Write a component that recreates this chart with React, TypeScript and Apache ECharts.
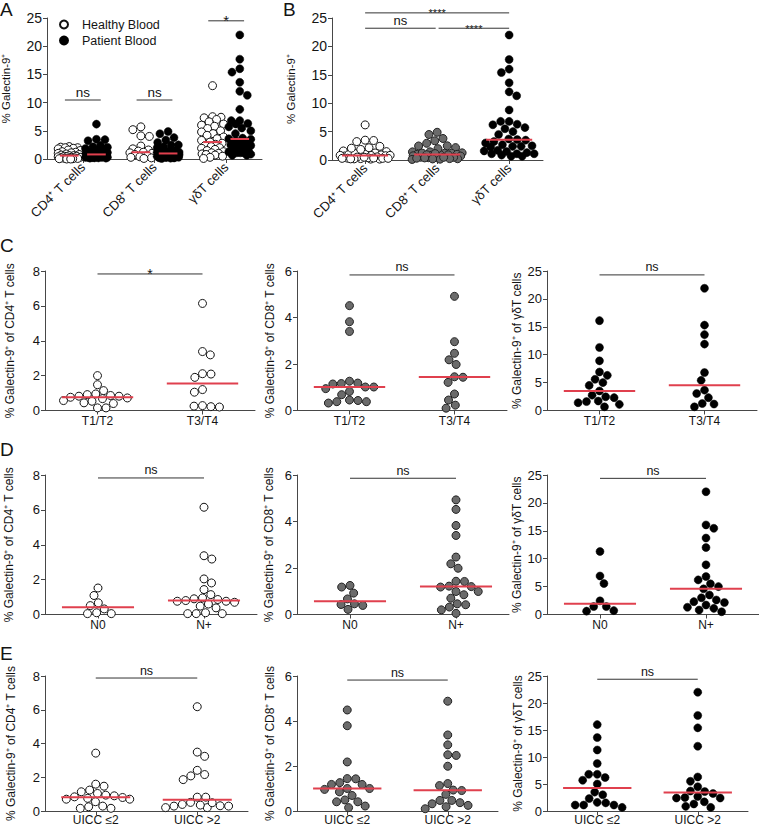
import React, { useEffect, useRef } from 'react';
import * as echarts from 'echarts';

// ---------- DATA ----------
const cellCats = ['CD4⁺ T cells', 'CD8⁺ T cells', 'γδT cells'];
const tCats = ['T1/T2', 'T3/T4'];
const nCats = ['N0', 'N+'];
const uiccCats = ['UICC ≤2', 'UICC >2'];

// Panel A healthy donors
const healthyCD4 = [2.2, 2.1, 2.0, 2.0, 1.9, 1.8, 1.6, 1.5, 1.3, 1.2, 1.1, 1.0, 0.9, 0.8, 0.7, 0.6, 0.6, 0.5, 0.5, 0.4, 0.4, 0.3, 0.3, 0.2, 0.2, 0.1, 0.1, 0.1, 0.05, 0.05, 0.0, 0.0];
const healthyCD8 = [5.7, 5.2, 4.1, 4.0, 2.3, 1.8, 1.6, 1.4, 1.2, 1.1, 1.0, 0.8, 0.6, 0.4, 0.3, 0.2, 0.1];
const healthyGD = [13.0, 7.5, 7.4, 7.3, 7.0, 6.6, 6.2, 6.0, 5.8, 5.4, 5.0, 4.8, 4.5, 4.2, 3.9, 3.6, 3.3, 3.0, 2.8, 2.6, 2.4, 2.2, 2.0, 1.9, 1.7, 1.5, 1.3, 1.1, 1.0, 0.9, 0.8, 0.7, 0.5, 0.3, 0.1];

// Row C: T stage
const c4T12 = [2.0, 1.48, 1.14, 0.95, 0.86, 0.82, 0.72, 0.68, 0.76, 0.82, 0.91, 0.53, 0.40, 0.44, 0.57, 0.15, 0.15];
const c4T34 = [6.14, 3.38, 3.19, 2.11, 2.09, 1.90, 1.20, 1.05, 0.25, 0.2, 0.22, 0.28];
const c8T12 = [4.51, 3.82, 3.40, 1.26, 1.18, 1.14, 1.16, 1.01, 1.01, 0.94, 0.82, 0.68, 0.45, 0.38, 0.32, 0.38, 0.43];
const c8T34 = [4.91, 2.96, 2.46, 2.18, 1.98, 1.45, 1.43, 1.21, 0.71, 0.45, 0.23, 0.10];
const cgdT12 = [16.1, 11.3, 8.9, 6.9, 6.3, 5.6, 5.0, 4.5, 3.5, 2.75, 2.45, 2.3, 1.7, 1.4, 1.1, 1.6, 0.66];
const cgdT34 = [21.9, 15.3, 13.6, 11.9, 6.8, 5.4, 3.65, 3.05, 2.3, 1.25, 1.15, 0.66];

// Row D: N stage
const d4N0 = [1.52, 1.09, 0.67, 0.51, 0.32, 0.1, 0.05, 0.05];
const d4Np = [6.15, 3.37, 3.18, 2.04, 1.81, 1.43, 1.14, 0.95, 0.9, 0.8, 0.76, 0.7, 0.86, 0.76, 0.6, 0.48, 0.38, 0.1, 0.05, 0.05, 0.05];
const d8N0 = [1.25, 1.18, 0.92, 0.67, 0.46, 0.43, 0.39, 0.22];
const d8Np = [4.93, 4.52, 3.83, 3.4, 2.47, 2.18, 1.99, 1.43, 1.22, 1.2, 1.42, 1.18, 0.99, 0.99, 0.85, 0.7, 0.42, 0.46, 0.2, 0.32, 0.05];
const dgdN0 = [11.3, 6.9, 5.55, 2.45, 1.43, 1.43, 0.6, 0.7];
const dgdNp = [22.0, 16.05, 15.45, 13.7, 12.0, 8.9, 6.8, 6.2, 5.5, 5.0, 4.6, 3.5, 3.0, 2.3, 2.15, 2.6, 1.7, 1.3, 1.1, 0.8, 0.5];

// Row E: UICC stage
const e4Lo = [3.43, 1.59, 1.47, 1.24, 1.04, 0.9, 0.8, 0.7, 0.7, 0.75, 0.84, 0.94, 1.14, 0.55, 0.25, 0.16, 0.16, 0.29];
const e4Hi = [6.18, 3.49, 3.24, 2.41, 2.16, 2.08, 1.86, 0.82, 0.82, 0.51, 0.39, 0.31, 0.29, 0.2, 0.2, 0.29, 0.35, 0.49];
const e8Lo = [4.49, 3.79, 2.18, 1.44, 1.26, 1.18, 1.18, 1.43, 1.0, 0.85, 0.96, 1.0, 0.69, 0.49, 0.41, 0.41, 0.22, 0.15];
const e8Hi = [4.88, 3.38, 2.94, 2.47, 2.5, 1.99, 1.13, 1.22, 0.91, 0.93, 0.74, 0.47, 0.37, 0.25, 0.1, 0.19, 0.32, 0.47];
const egdLo = [16.0, 13.6, 11.3, 8.8, 6.8, 6.8, 6.2, 5.7, 5.0, 3.5, 3.0, 2.3, 1.5, 1.1, 0.67, 1.1, 1.1, 1.6];
const egdHi = [22.0, 17.7, 15.4, 12.0, 6.3, 5.5, 4.5, 3.6, 3.7, 3.25, 2.7, 2.4, 2.4, 2.5, 1.3, 1.7, 0.67, 0.86];

// Patient blood (all patients)
const patientCD4 = [...e4Lo, ...e4Hi];
const patientCD8 = [...e8Lo, ...e8Hi];
const patientGD = [...egdLo, ...egdHi];

// ---------- HELPERS ----------
const FONT = '"Liberation Sans", Arial, Helvetica, sans-serif';
const TXT = '#141414';
const AX = '#474747';
const RED = '#e0404e';

function median(a: number[]) {
  const s = [...a].sort((x, y) => x - y);
  const n = s.length;
  return n % 2 ? s[(n - 1) / 2] : (s[n / 2 - 1] + s[n / 2]) / 2;
}

function swarm(values: number[], pxPerY: number, d: number, maxHalf: number): number[] {
  const order = values.map((_, i) => i).sort((a, b) => values[b] - values[a]);
  const placed: { x: number; y: number }[] = [];
  const xs = new Array(values.length).fill(0);
  const minDist = (c: number, y: number) => {
    let m = Infinity;
    for (const p of placed) m = Math.min(m, Math.hypot(p.x - c, p.y - y));
    return m;
  };
  order.forEach((i, k) => {
    const y = values[i] * pxPerY;
    const cands = [0];
    for (const p of placed) {
      const dy = Math.abs(p.y - y);
      if (dy < d) {
        const dx = Math.sqrt(d * d - dy * dy);
        cands.push(p.x + dx, p.x - dx);
      }
    }
    const pref = k % 2 ? 1 : -1;
    const ok = cands
      .filter((c) => Math.abs(c) <= maxHalf)
      .sort((a, b) => Math.abs(a) - Math.abs(b) || (a - b) * pref);
    let chosen: number | null = null;
    for (const c of ok) {
      if (minDist(c, y) >= d - 0.01) { chosen = c; break; }
    }
    if (chosen === null) {
      let best = 0, bestD = -1;
      for (let c = -maxHalf; c <= maxHalf; c += 0.5) {
        const md = minDist(c, y);
        if (md > bestD + 1e-6 || (Math.abs(md - bestD) < 1e-6 && Math.abs(c) < Math.abs(best))) { best = c; bestD = md; }
      }
      chosen = best;
    }
    placed.push({ x: chosen, y });
    xs[i] = chosen;
  });
  return xs;
}

type Group = { values: number[]; x: number; style: 'open' | 'gray' | 'black'; name?: string };
type Sig = { x1: number; x2: number; y: number; text: string; size: number; dy: number };
type Panel = {
  grid: { left: number; top: number; width: number; height: number };
  yMax: number; yInt: number; xMin: number; xMax: number;
  cats: string[]; rotate: number; catSize: number; tickSize: number; catMargin: number;
  yName: string; nameGap: number; nameSize: number;
  groups: Group[]; medHalf: number; maxHalf: number; sigs: Sig[];
};

const STYLES: Record<string, any> = {
  open: { color: '#ffffff', borderColor: '#111111', borderWidth: 1, opacity: 1 },
  black: { color: '#000000', borderColor: '#000000', borderWidth: 0.5, opacity: 1 },
  gray: { color: '#6b6b6b', borderColor: '#222222', borderWidth: 1, opacity: 1 },
};

const cd4Name = '% Galectin-9⁺ of CD4⁺ T cells';
const cd8Name = '% Galectin-9⁺ of CD8⁺ T cells';
const gdName = '% Galectin-9⁺ of γδT cells';

const cSets = [[c4T12, c4T34], [c8T12, c8T34], [cgdT12, cgdT34]];
const dSets = [[d4N0, d4Np], [d8N0, d8Np], [dgdN0, dgdNp]];
const eSets = [[e4Lo, e4Hi], [e8Lo, e8Hi], [egdLo, egdHi]];

function rowPanels(top: number, height: number, widths: number[], cats: string[], sets: number[][][], gaps: number[], sigY: number[], star: boolean, catMargin: number): Panel[] {
  const lefts = [45, 297, 547];
  const yMaxs = [8, 6, 25];
  const yInts = [2, 2, 5];
  const names = [cd4Name, cd8Name, gdName];
  const styles: Array<'open' | 'gray' | 'black'> = ['open', 'gray', 'black'];
  return [0, 1, 2].map((k) => {
    const isStar = star && k === 0;
    return {
      grid: { left: lefts[k], top, width: widths[k], height },
      yMax: yMaxs[k], yInt: yInts[k], xMin: -0.5, xMax: 1.5,
      cats, rotate: 0, catSize: 12, tickSize: 13, catMargin,
      yName: names[k], nameGap: gaps[k], nameSize: 12,
      groups: [
        { values: sets[k][0], x: 0, style: styles[k] },
        { values: sets[k][1], x: 1, style: styles[k] },
      ],
      medHalf: 0.34, maxHalf: 34,
      sigs: [{ x1: 0, x2: 1, y: sigY[k], text: isStar ? '*' : 'ns', size: isStar ? 14 : 12.5, dy: isStar ? 7 : -1 }],
    };
  });
}

const panels: Panel[] = [
  {
    grid: { left: 47, top: 18, width: 215, height: 141 },
    yMax: 25, yInt: 5, xMin: -0.5, xMax: 2.5,
    cats: cellCats, rotate: 45, catSize: 13, tickSize: 14, catMargin: 6,
    yName: '% Galectin-9⁺', nameGap: 35, nameSize: 11.5,
    groups: [
      { values: healthyCD4, x: -0.19, style: 'open', name: 'Healthy Blood' },
      { values: patientCD4, x: 0.19, style: 'black', name: 'Patient Blood' },
      { values: healthyCD8, x: 0.81, style: 'open', name: 'Healthy Blood' },
      { values: patientCD8, x: 1.19, style: 'black', name: 'Patient Blood' },
      { values: healthyGD, x: 1.81, style: 'open', name: 'Healthy Blood' },
      { values: patientGD, x: 2.19, style: 'black', name: 'Patient Blood' },
    ],
    medHalf: 0.13, maxHalf: 11,
    sigs: [
      { x1: -0.25, x2: 0.25, y: 10.46, text: 'ns', size: 13.5, dy: -1 },
      { x1: 0.75, x2: 1.25, y: 10.46, text: 'ns', size: 13.5, dy: -1 },
      { x1: 1.75, x2: 2.25, y: 24.5, text: '*', size: 15, dy: 7 },
    ],
  },
  {
    grid: { left: 332, top: 18, width: 211, height: 142 },
    yMax: 25, yInt: 5, xMin: -0.46, xMax: 2.47,
    cats: cellCats, rotate: 45, catSize: 13, tickSize: 14, catMargin: 6,
    yName: '% Galectin-9⁺', nameGap: 35, nameSize: 11.5,
    groups: [
      { values: patientCD4, x: 0, style: 'open' },
      { values: patientCD8, x: 1, style: 'gray' },
      { values: patientGD, x: 2, style: 'black' },
    ],
    medHalf: 0.32, maxHalf: 25,
    sigs: [
      { x1: 0, x2: 2, y: 25.9, text: '****', size: 11, dy: 6 },
      { x1: 0, x2: 0.98, y: 23.2, text: 'ns', size: 13, dy: -1 },
      { x1: 1.02, x2: 2, y: 23.2, text: '****', size: 11, dy: 6 },
    ],
  },
  ...rowPanels(271, 139.5, [210, 210, 210], tCats, cSets, [29, 21, 24], [7.83, 5.83, 24.3], true, 4),
  ...rowPanels(475, 139.5, [212, 212, 212], nCats, dSets, [30, 22, 24], [7.83, 5.86, 24.4], false, 4),
  ...rowPanels(676, 135, [203, 201, 201], uiccCats, eSets, [28, 21, 22], [7.88, 5.82, 24.4], false, 3),
];

function buildOption() {
  const grid: any[] = [];
  const xAxis: any[] = [];
  const yAxis: any[] = [];
  const series: any[] = [];
  panels.forEach((p, i) => {
    grid.push({ ...p.grid, containLabel: false, outerBoundsMode: 'none' });
    const catIdx = p.cats.map((_, k) => k);
    xAxis.push({
      type: 'value', gridIndex: i, min: p.xMin, max: p.xMax,
      splitLine: { show: false },
      axisLine: { show: true, onZero: false, lineStyle: { color: AX, width: 1 } },
      axisTick: { show: true, customValues: catIdx, length: 4, lineStyle: { color: AX } },
      axisLabel: {
        show: true, customValues: catIdx, rotate: p.rotate, margin: p.catMargin,
        formatter: (v: number) => p.cats[Math.round(v)] ?? '',
        fontSize: p.catSize, color: TXT, fontFamily: FONT,
      },
    });
    yAxis.push({
      type: 'value', gridIndex: i, min: 0, max: p.yMax, interval: p.yInt,
      splitLine: { show: false },
      axisLine: { show: true, onZero: false, lineStyle: { color: AX, width: 1 } },
      axisTick: { show: true, length: 4, lineStyle: { color: AX } },
      axisLabel: { fontSize: p.tickSize, color: TXT, fontFamily: FONT, margin: 5 },
      name: p.yName, nameLocation: 'middle', nameGap: p.nameGap, nameRotate: 90,
      nameTextStyle: { fontSize: p.nameSize, color: TXT, fontFamily: FONT },
    });
    const pxPerY = p.grid.height / p.yMax;
    const pxPerX = p.grid.width / (p.xMax - p.xMin);
    p.groups.forEach((g, gi) => {
      const offs = swarm(g.values, pxPerY, 8.5, p.maxHalf);
      series.push({
        type: 'scatter', name: g.name ?? `p${i}g${gi}`, xAxisIndex: i, yAxisIndex: i,
        symbol: 'circle', symbolSize: 8, z: 3,
        itemStyle: STYLES[g.style],
        data: g.values.map((v, k) => [g.x + offs[k] / pxPerX, v]),
        silent: true,
      });
      const m = median(g.values);
      series.push({
        type: 'line', name: `med${i}-${gi}`, xAxisIndex: i, yAxisIndex: i, z: 6,
        symbol: 'none', lineStyle: { color: RED, width: 2 }, silent: true,
        data: [[g.x - p.medHalf, m], [g.x + p.medHalf, m]],
      });
    });
    p.sigs.forEach((s, si) => {
      series.push({
        type: 'line', name: `sig${i}-${si}`, xAxisIndex: i, yAxisIndex: i, clip: false,
        symbol: 'none', lineStyle: { color: '#333333', width: 1 }, silent: true,
        data: [[s.x1, s.y], [s.x2, s.y]],
      });
    });
  });

  return {
    animation: false,
    backgroundColor: '#ffffff',
    textStyle: { fontFamily: FONT },
    grid, xAxis, yAxis, series,
    legend: {
      data: ['Healthy Blood', 'Patient Blood'],
      orient: 'vertical', left: 54, top: 13, itemGap: 3,
      itemWidth: 26, itemHeight: 8, icon: 'circle', selectedMode: false,
      textStyle: { fontSize: 12.5, color: TXT, fontFamily: FONT },
    },
  };
}

const letters = [
  { t: 'A', x: 0, y: 0 },
  { t: 'B', x: 283, y: 0 },
  { t: 'C', x: 0, y: 236 },
  { t: 'D', x: 0, y: 440 },
  { t: 'E', x: 0, y: 644 },
];

export default function App() {
  const ref = useRef<HTMLDivElement>(null);
  useEffect(() => {
    if (!ref.current) return;
    const chart = echarts.init(ref.current, undefined, { renderer: 'svg' });
    chart.setOption(buildOption() as any);
    const graphics: any[] = letters.map((l) => ({
      type: 'text', x: l.x, y: l.y,
      style: { text: l.t, fontSize: 19, fill: TXT, fontFamily: FONT, textVerticalAlign: 'top' },
    }));
    panels.forEach((p, i) => {
      p.sigs.forEach((s) => {
        const pt = chart.convertToPixel({ gridIndex: i } as any, [(s.x1 + s.x2) / 2, s.y]) as number[];
        if (!pt) return;
        graphics.push({
          type: 'text', x: pt[0], y: pt[1] + s.dy,
          style: {
            text: s.text, fontSize: s.size, fill: TXT, fontFamily: FONT,
            textAlign: 'center', textVerticalAlign: 'bottom',
          },
        });
      });
    });
    chart.setOption({ graphic: graphics } as any);
    return () => chart.dispose();
  }, []);
  return (
    <div
      ref={ref}
      style={{ position: 'fixed', left: 0, top: 0, width: 759, height: 828, background: '#fff' }}
    />
  );
}
